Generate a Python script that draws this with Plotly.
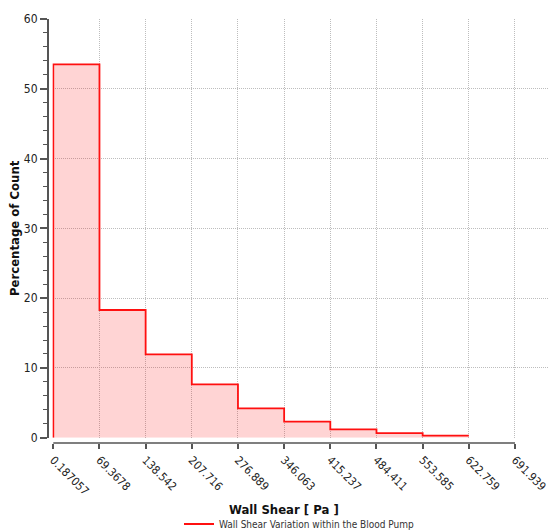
import plotly.graph_objects as go

# Data
bin_edges = [0.187057, 69.3678, 138.542, 207.716, 276.889, 346.063, 415.237, 484.411, 553.585, 622.759]
percentages = [53.5, 18.3, 11.95, 7.65, 4.2, 2.3, 1.2, 0.65, 0.3]
tick_vals = [0.187057, 69.3678, 138.542, 207.716, 276.889, 346.063, 415.237, 484.411, 553.585, 622.759, 691.939]
tick_text = ["0.187057", "69.3678", "138.542", "207.716", "276.889", "346.063",
             "415.237", "484.411", "553.585", "622.759", "691.939"]
series_name = "Wall Shear Variation within the Blood Pump"

# step path
xs = [bin_edges[0]] + bin_edges
ys = [0] + percentages + [percentages[-1]]

FONT = "DejaVu Sans Condensed, DejaVu Sans, sans-serif"
AX = "#555555"
GRID = "#bdbdbd"

fig = go.Figure()
fig.add_trace(go.Scatter(x=xs, y=ys, mode="lines", line=dict(shape="hv", width=0),
                         fill="tozeroy", fillcolor="rgba(255,0,0,0.17)",
                         showlegend=False, hoverinfo="skip"))
fig.add_trace(go.Scatter(x=xs, y=ys, mode="lines", line=dict(shape="hv", width=1.8, color="#ff1010"),
                         name=series_name, showlegend=True))

# x axis line spanning the tick range only
fig.add_shape(type="line", xref="x", yref="paper", x0=tick_vals[0], x1=tick_vals[-1],
              y0=0, y1=0, line=dict(color=AX, width=1.5))

fig.add_annotation(text="<b>Wall Shear [ Pa ]</b>", xref="x", yref="paper",
                   x=(tick_vals[0] + tick_vals[-1]) / 2, y=-0.134, showarrow=False,
                   font=dict(size=13, color="#111111", family=FONT), xanchor="center", yanchor="top")

fig.update_layout(
    width=548, height=532,
    margin=dict(l=48, r=0, t=19, b=89, autoexpand=False),
    paper_bgcolor="white", plot_bgcolor="white",
    font=dict(family=FONT, color="#222222", size=12),
    showlegend=True,
    legend=dict(orientation="h", x=0.262, xanchor="left", y=-0.191, yanchor="middle",
                font=dict(size=10, color="#333333", family=FONT), bgcolor="rgba(0,0,0,0)"),
    xaxis=dict(domain=[0.009, 1], range=[-1.0, 741.4], anchor="free", position=0,
               tickmode="array", tickvals=tick_vals, ticktext=tick_text, tickangle=45,
               ticks="outside", ticklen=5, tickwidth=1.5, tickcolor=AX,
               ticklabeloverflow="allow",
               showline=False, zeroline=False,
               showgrid=True, gridcolor=GRID, griddash="1px,1px", gridwidth=1,
               tickfont=dict(size=11.5, color="#222222")),
    yaxis=dict(domain=[0.0125, 1], range=[0, 60], anchor="free", position=0,
               tickvals=[0, 10, 20, 30, 40, 50, 60],
               ticks="outside", ticklen=7, tickwidth=1.5, tickcolor=AX,
               minor=dict(dtick=2, ticks="outside", ticklen=4, tickcolor=AX, tickwidth=1, showgrid=False),
               showline=True, linecolor=AX, linewidth=2, zeroline=False,
               showgrid=True, gridcolor=GRID, griddash="1px,1px", gridwidth=1,
               tickfont=dict(size=12, color="#222222"),
               title=dict(text="<b>Percentage of Count</b>", font=dict(size=13, color="#111111"), standoff=0)),
)

fig.write_html("out.html")
